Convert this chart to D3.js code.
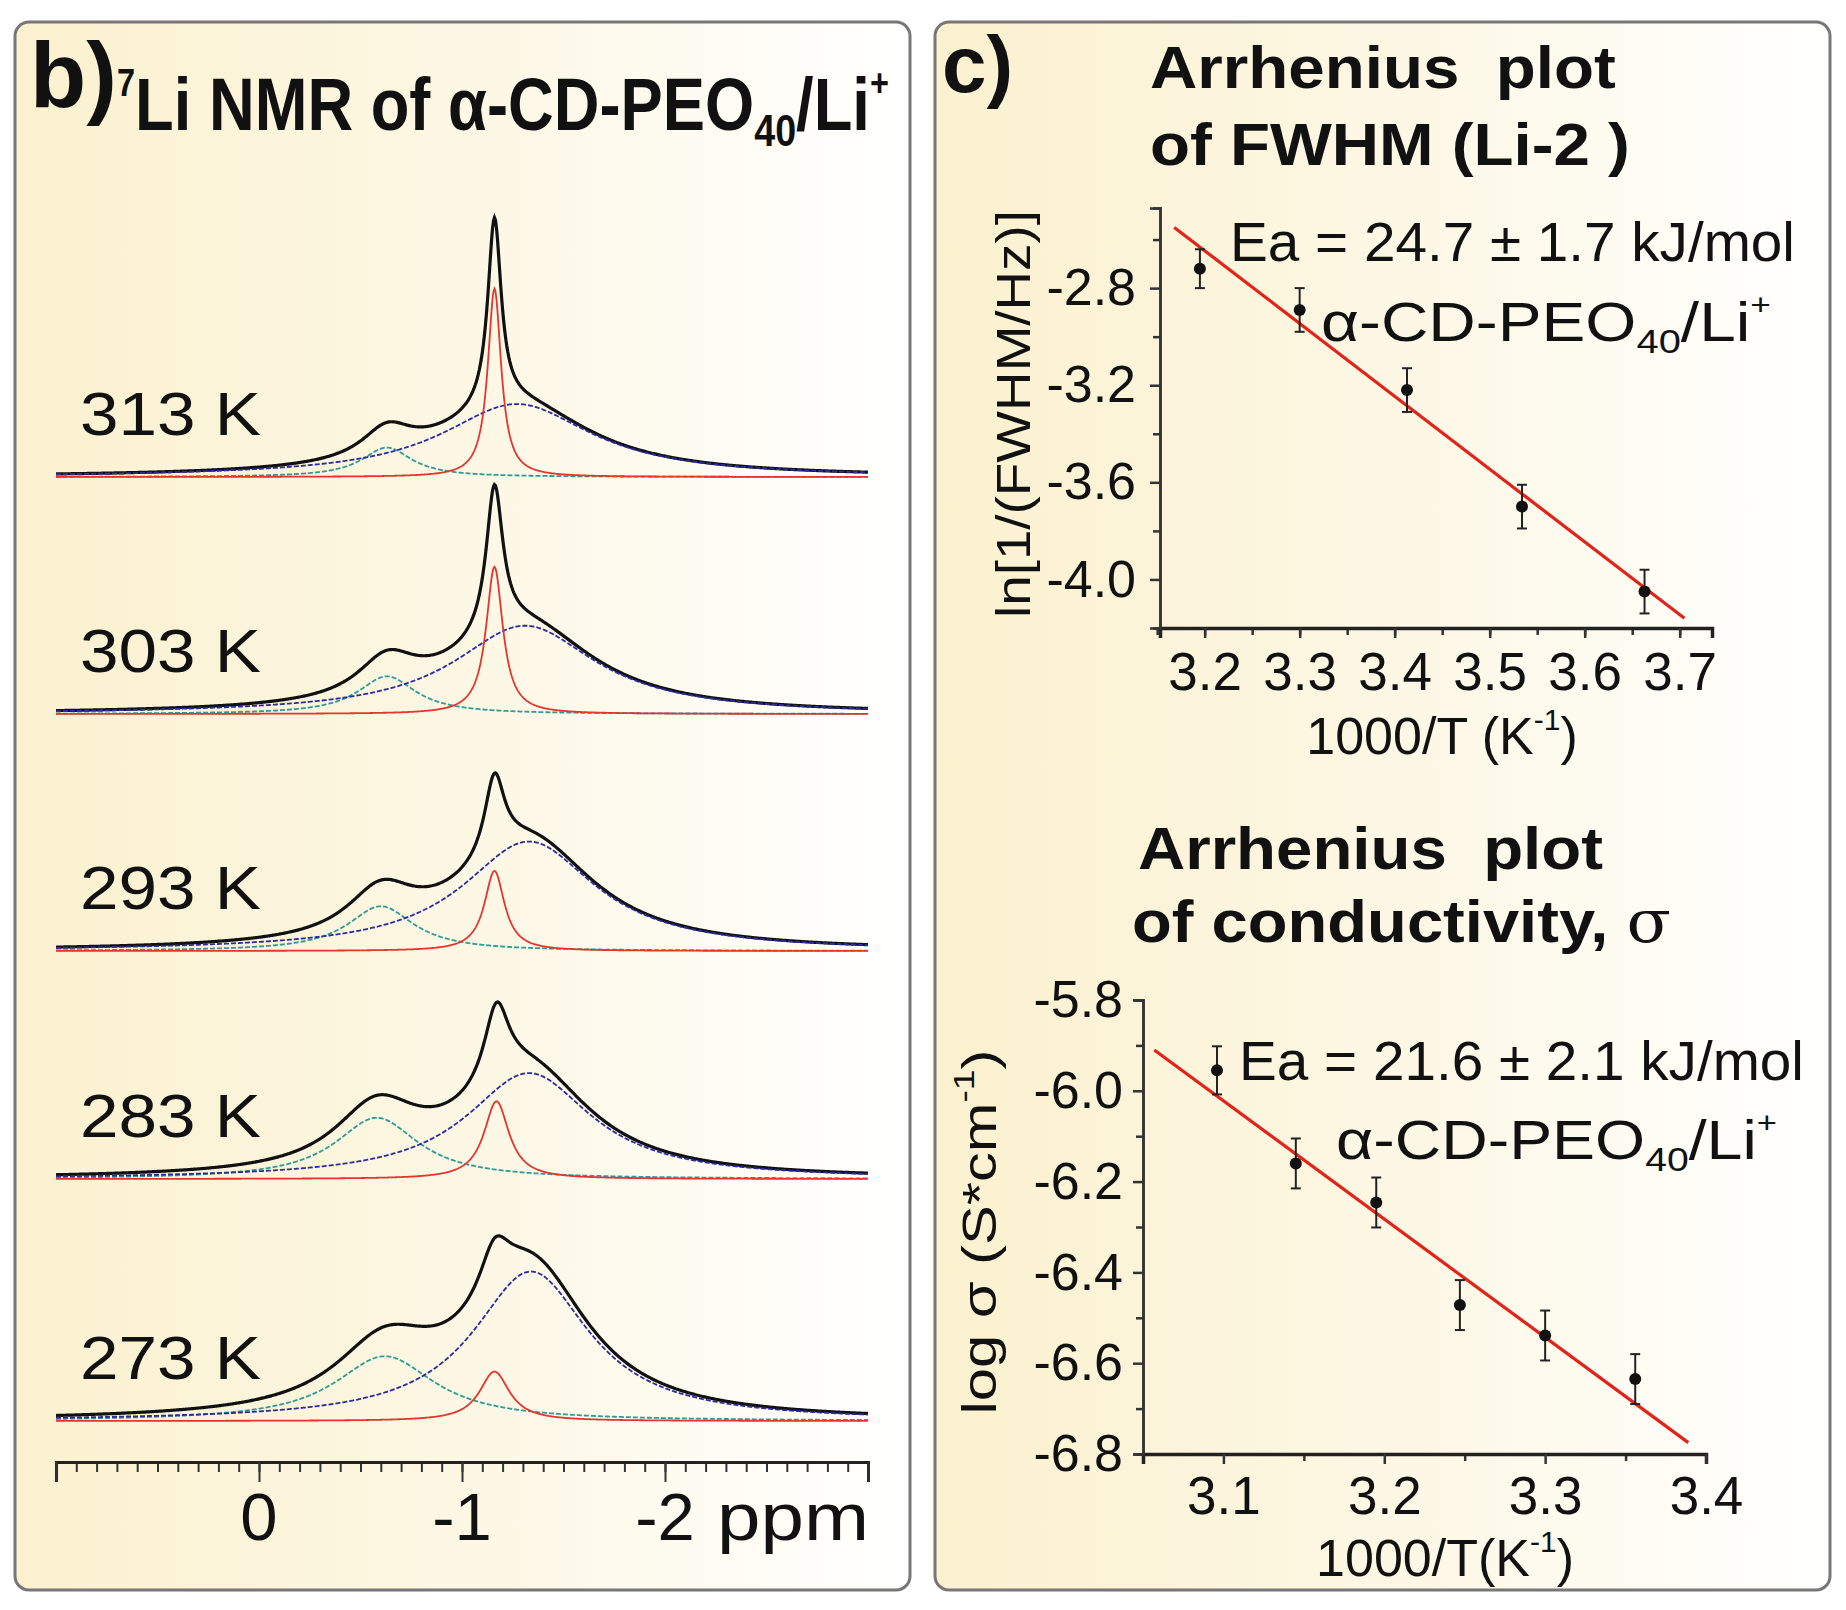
<!DOCTYPE html>
<html>
<head>
<meta charset="utf-8">
<script src="https://cdn.jsdelivr.net/npm/d3@7"></script>
<style>
  body { margin: 0; background: #fff; }
  svg { display: block; font-family: "Liberation Sans", Arial, sans-serif; }
  text { white-space: pre; }
</style>
</head>
<body>
<svg id="chart" width="1846" height="1610"></svg>
<script>
// ---- data: 7Li NMR deconvolution (peak centre ppm, height a.u., FWHM ppm)
const temps = [313, 303, 293, 283, 273];
const redCenter = [-1.16, -1.16, -1.16, -1.17, -1.16];
const redHeight = [160, 125, 68, 66, 42];
const redWidth = [0.08, 0.1, 0.12, 0.15, 0.18];
const blueCenter = [-1.27, -1.31, -1.33, -1.33, -1.34];
const blueHeight = [62, 75, 93, 90, 127];
const blueWidth = [0.9, 0.85, 0.8, 0.75, 0.7];
const cyanCenter = [-0.63, -0.63, -0.6, -0.58, -0.62];
const cyanHeight = [25, 32, 38, 52, 55];
const cyanWidth = [0.3, 0.35, 0.4, 0.5, 0.6];
const ppmTicks = [0, -1, -2];

// ---- data: Arrhenius plot of FWHM (Li-2)
const fwhmX = [3.195, 3.300, 3.413, 3.534, 3.663];
const fwhmY = [-2.72, -2.89, -3.22, -3.70, -4.05];
const fwhmErr = [0.08, 0.09, 0.09, 0.09, 0.09];
const fwhmFitX = [3.168, 3.705];
const fwhmFitY = [-2.55, -4.16];
const fwhmXTicks = [3.2, 3.3, 3.4, 3.5, 3.6, 3.7];
const fwhmYTicks = [-2.8, -3.2, -3.6, -4.0];

// ---- data: Arrhenius plot of conductivity
const condX = [3.096, 3.145, 3.195, 3.247, 3.300, 3.356];
const condY = [-5.955, -6.16, -6.246, -6.472, -6.539, -6.635];
const condErr = [0.053, 0.055, 0.055, 0.055, 0.055, 0.055];
const condFitX = [3.057, 3.389];
const condFitY = [-5.91, -6.775];
const condXTicks = [3.1, 3.2, 3.3, 3.4];
const condYTicks = [-5.8, -6.0, -6.2, -6.4, -6.6, -6.8];

const svg = d3.select("#chart");
const FONT = "'Liberation Sans', Arial, sans-serif";

// background gradient of the panels
const defs = svg.append("defs");
const grad = defs.append("linearGradient").attr("id", "cream")
    .attr("x1", "0%").attr("x2", "100%").attr("y1", "0%").attr("y2", "0%");
grad.append("stop").attr("offset", "0%").attr("stop-color", "#fbf1cf");
grad.append("stop").attr("offset", "55%").attr("stop-color", "#fdf8e6");
grad.append("stop").attr("offset", "100%").attr("stop-color", "#ffffff");

svg.append("rect").attr("x", 15).attr("y", 22).attr("width", 895).attr("height", 1568)
    .attr("rx", 14).attr("fill", "url(#cream)").attr("stroke", "#777").attr("stroke-width", 3);
svg.append("rect").attr("x", 935).attr("y", 22).attr("width", 895).attr("height", 1568)
    .attr("rx", 14).attr("fill", "url(#cream)").attr("stroke", "#777").attr("stroke-width", 3);

// squeeze/stretch a text horizontally so it spans [x0, x0+width]
function fitText(t, x0, width) {
    const w = t.node().getBBox().width;
    t.attr("transform", `translate(${x0},0) scale(${width / w},1)`);
}

// ================= panel b : spectra =================
const ppm = d3.scaleLinear().domain([1, -3]).range([56, 868]);
const inten = d3.scaleLinear().domain([0, 100]).range([0, -117.7]);
const baselines = [477, 714, 951, 1179, 1421];
const grid = d3.range(1, -3.0001, -0.005);

function lor(x, c, h, w) {
    const u = (x - c) / (w / 2);
    return h / (1 + u * u);
}

const line = d3.line().x(d => ppm(d[0])).y(d => inten(d[1]));

temps.forEach((t, i) => {
    const g = svg.append("g").attr("transform", `translate(0,${baselines[i]})`);
    const red = grid.map(x => [x, lor(x, redCenter[i], redHeight[i], redWidth[i])]);
    const blue = grid.map(x => [x, lor(x, blueCenter[i], blueHeight[i], blueWidth[i])]);
    const cyan = grid.map(x => [x, lor(x, cyanCenter[i], cyanHeight[i], cyanWidth[i])]);
    const total = grid.map((x, k) => [x, red[k][1] + blue[k][1] + cyan[k][1]]);

    g.append("path").datum(total).attr("d", line).attr("fill", "none")
        .attr("stroke", "#111").attr("stroke-width", 3.2);
    g.append("path").datum(cyan).attr("d", line).attr("fill", "none")
        .attr("stroke", "#2e9c96").attr("stroke-width", 1.8).attr("stroke-dasharray", "5,2");
    g.append("path").datum(blue).attr("d", line).attr("fill", "none")
        .attr("stroke", "#2b2ba6").attr("stroke-width", 1.8).attr("stroke-dasharray", "5,2");
    g.append("path").datum(red).attr("d", line).attr("fill", "none")
        .attr("stroke", "#e5352f").attr("stroke-width", 1.8);

    svg.append("text").attr("x", 80).attr("y", baselines[i] - 42)
        .attr("font-size", 62).attr("fill", "#111")
        .attr("textLength", 181).attr("lengthAdjust", "spacingAndGlyphs")
        .text(t + " K");
});

// ppm axis
const ppmAxisY = 1462;
svg.append("g").attr("transform", `translate(0,${ppmAxisY})`)
    .call(d3.axisBottom(ppm).tickValues(d3.range(10, -31, -1).map(d => d / 10))
        .tickSize(10).tickFormat(""))
    .call(g => g.select(".domain").remove())
    .call(g => g.selectAll("line").attr("stroke", "#333").attr("stroke-width", 2));
svg.append("g").attr("transform", `translate(0,${ppmAxisY})`)
    .call(d3.axisBottom(ppm).tickValues([1, 0, -1, -2, -3]).tickSize(20).tickFormat(""))
    .call(g => g.select(".domain").attr("stroke", "#222").attr("stroke-width", 3))
    .call(g => g.selectAll("line").attr("stroke", "#333").attr("stroke-width", 2));
svg.append("g").selectAll("text").data(ppmTicks).join("text")
    .attr("x", d => ppm(d)).attr("y", 1540).attr("text-anchor", "middle")
    .attr("font-size", 67).attr("fill", "#111")
    .text(d => d === 0 ? "0" : "-" + Math.abs(d));
svg.append("text").attr("x", 717).attr("y", 1540).attr("font-size", 67)
    .attr("fill", "#111").attr("textLength", 152).attr("lengthAdjust", "spacingAndGlyphs").text("ppm");

// title b
svg.append("text").attr("x", 30).attr("y", 107).attr("font-size", 92)
    .attr("font-weight", "bold").attr("fill", "#111").text("b)");
const tb = svg.append("text").attr("x", 0).attr("y", 130).attr("font-size", 74)
    .attr("font-weight", "bold").attr("fill", "#111");
tb.append("tspan").attr("font-size", 38).attr("dy", -34).text("7");
tb.append("tspan").attr("dy", 34).text("Li NMR of α-CD-PEO");
tb.append("tspan").attr("font-size", 44).attr("dy", 16).text("40");
tb.append("tspan").attr("dy", -16).text("/Li");
tb.append("tspan").attr("font-size", 38).attr("dy", -34).text("+");
fitText(tb, 117, 772);

// ================= panel c =================
const fmt = d => d.toFixed(1);

svg.append("text").attr("x", 942).attr("y", 92).attr("font-size", 80)
    .attr("font-weight", "bold").attr("fill", "#111").text("c)");

function boldTitle(txt, x0, y, w, tail) {
    const t = svg.append("text").attr("x", 0).attr("y", y).attr("font-size", 60)
        .attr("font-weight", "bold").attr("fill", "#111");
    t.append("tspan").text(txt);
    if (tail) t.append("tspan").attr("font-weight", "normal").attr("font-family", "'DejaVu Serif', serif").text(tail);
    fitText(t, x0, w);
}
boldTitle("Arrhenius  plot", 1150, 88, 466);
boldTitle("of FWHM (Li-2 )", 1150, 165, 480);
boldTitle("Arrhenius  plot", 1138, 869, 465);
boldTitle("of conductivity, ", 1132, 942, 539, "σ");

function drawPlot(o) {
    const x = d3.scaleLinear().domain(o.xDom).range(o.xRange);
    const y = d3.scaleLinear().domain(o.yDom).range(o.yRange);
    const g = svg.append("g");
    const axisStyle = s => s.selectAll("line,path").attr("stroke", "#333").attr("stroke-width", 2.5);

    // minor ticks
    g.append("g").attr("transform", `translate(0,${o.yRange[0]})`)
        .call(d3.axisBottom(x).tickValues(o.xMinor).tickSize(7).tickFormat(""))
        .call(axisStyle);
    g.append("g").attr("transform", `translate(${o.xRange[0]},0)`)
        .call(d3.axisLeft(y).tickValues(o.yMinor).tickSize(7).tickFormat(""))
        .call(axisStyle);
    // major ticks with labels
    const gx = g.append("g").attr("transform", `translate(0,${o.yRange[0]})`)
        .call(d3.axisBottom(x).tickValues(o.xTicks).tickSize(10).tickPadding(o.xPad).tickFormat(fmt))
        .call(axisStyle);
    gx.select(".domain").attr("stroke-width", 3.5).attr("stroke", "#222");
    gx.selectAll("text").attr("font-size", 53).attr("font-family", FONT).attr("fill", "#111");
    const gy = g.append("g").attr("transform", `translate(${o.xRange[0]},0)`)
        .call(d3.axisLeft(y).tickValues(o.yTicks).tickSize(10).tickPadding(o.yPad).tickFormat(fmt))
        .call(axisStyle);
    gy.select(".domain").attr("stroke-width", 2.5);
    gy.selectAll("text").attr("font-size", 52).attr("font-family", FONT).attr("fill", "#111");

    // fit line
    g.append("line")
        .attr("x1", x(o.fitX[0])).attr("y1", y(o.fitY[0]))
        .attr("x2", x(o.fitX[1])).attr("y2", y(o.fitY[1]))
        .attr("stroke", "#e2231a").attr("stroke-width", 3.2);

    // error bars + points
    const pts = o.px.map((v, i) => ({ x: v, y: o.py[i], e: o.pe[i] }));
    const eb = g.append("g").attr("stroke", "#222").attr("stroke-width", 2);
    eb.selectAll(".v").data(pts).join("line")
        .attr("x1", d => x(d.x)).attr("x2", d => x(d.x))
        .attr("y1", d => y(d.y - d.e)).attr("y2", d => y(d.y + d.e));
    eb.selectAll(".t").data(pts).join("line")
        .attr("x1", d => x(d.x) - 5).attr("x2", d => x(d.x) + 5)
        .attr("y1", d => y(d.y + d.e)).attr("y2", d => y(d.y + d.e));
    eb.selectAll(".b").data(pts).join("line")
        .attr("x1", d => x(d.x) - 5).attr("x2", d => x(d.x) + 5)
        .attr("y1", d => y(d.y - d.e)).attr("y2", d => y(d.y - d.e));
    g.append("g").selectAll("circle").data(pts).join("circle")
        .attr("cx", d => x(d.x)).attr("cy", d => y(d.y)).attr("r", 6).attr("fill", "#111");

    // Ea and sample annotation
    svg.append("text").attr("x", 0).attr("y", o.eaY).attr("font-size", 56).attr("fill", "#111")
        .text(o.ea).call(t => fitText(t, o.eaX, o.eaW));
    const s = svg.append("text").attr("x", 0).attr("y", o.smY).attr("font-size", 56).attr("fill", "#111");
    s.append("tspan").text("α-CD-PEO");
    s.append("tspan").attr("font-size", 34).attr("dy", 12).text("40");
    s.append("tspan").attr("dy", -12).text("/Li");
    s.append("tspan").attr("font-size", 30).attr("dy", -26).text("+");
    fitText(s, o.smX, o.smW);

    // axis titles
    const yl = svg.append("text").attr("transform", `translate(${o.ylX},${o.ylY}) rotate(-90)`)
        .attr("text-anchor", "middle").attr("font-size", 48).attr("fill", "#111");
    o.yLabel(yl);
    yl.attr("textLength", o.ylW).attr("lengthAdjust", "spacingAndGlyphs");
    const xl = svg.append("text").attr("x", o.xlX).attr("y", o.xlY)
        .attr("text-anchor", "middle").attr("font-size", 52).attr("fill", "#111");
    xl.append("tspan").text(o.xlText);
    xl.append("tspan").attr("font-size", 30).attr("dy", -24).text("-1");
    xl.append("tspan").attr("dy", 24).text(")");
}

drawPlot({
    xDom: [3.153, 3.734], xRange: [1160, 1712],
    yDom: [-4.2, -2.47], yRange: [628, 208],
    xTicks: fwhmXTicks, xMinor: d3.range(3.15, 3.74, 0.05),
    yTicks: fwhmYTicks, yMinor: [-2.6, -3.0, -3.4, -3.8],
    xPad: 14, yPad: 14,
    px: fwhmX, py: fwhmY, pe: fwhmErr, fitX: fwhmFitX, fitY: fwhmFitY,
    ea: "Ea = 24.7 ± 1.7 kJ/mol", eaX: 1230, eaY: 261, eaW: 565,
    smX: 1321, smY: 341, smW: 450,
    ylX: 1030, ylY: 414, ylW: 408,
    yLabel: t => t.text("ln[1/(FWHM/Hz)]"),
    xlX: 1442, xlY: 754, xlText: "1000/T (K"
});

drawPlot({
    xDom: [3.05, 3.4], xRange: [1143, 1706],
    yDom: [-6.8, -5.8], yRange: [1454, 1000],
    xTicks: condXTicks, xMinor: [3.05, 3.15, 3.25, 3.35],
    yTicks: condYTicks, yMinor: [-5.9, -6.1, -6.3, -6.5, -6.7],
    xPad: 12, yPad: 10,
    px: condX, py: condY, pe: condErr, fitX: condFitX, fitY: condFitY,
    ea: "Ea = 21.6 ± 2.1 kJ/mol", eaX: 1239, eaY: 1080, eaW: 565,
    smX: 1336, smY: 1159, smW: 441,
    ylX: 996, ylY: 1232, ylW: 365,
    yLabel: t => {
        t.append("tspan").text("log σ (S*cm");
        t.append("tspan").attr("font-size", 30).attr("dy", -22).text("-1");
        t.append("tspan").attr("dy", 22).text(")");
    },
    xlX: 1445, xlY: 1576, xlText: "1000/T(K"
});
</script>
</body>
</html>
